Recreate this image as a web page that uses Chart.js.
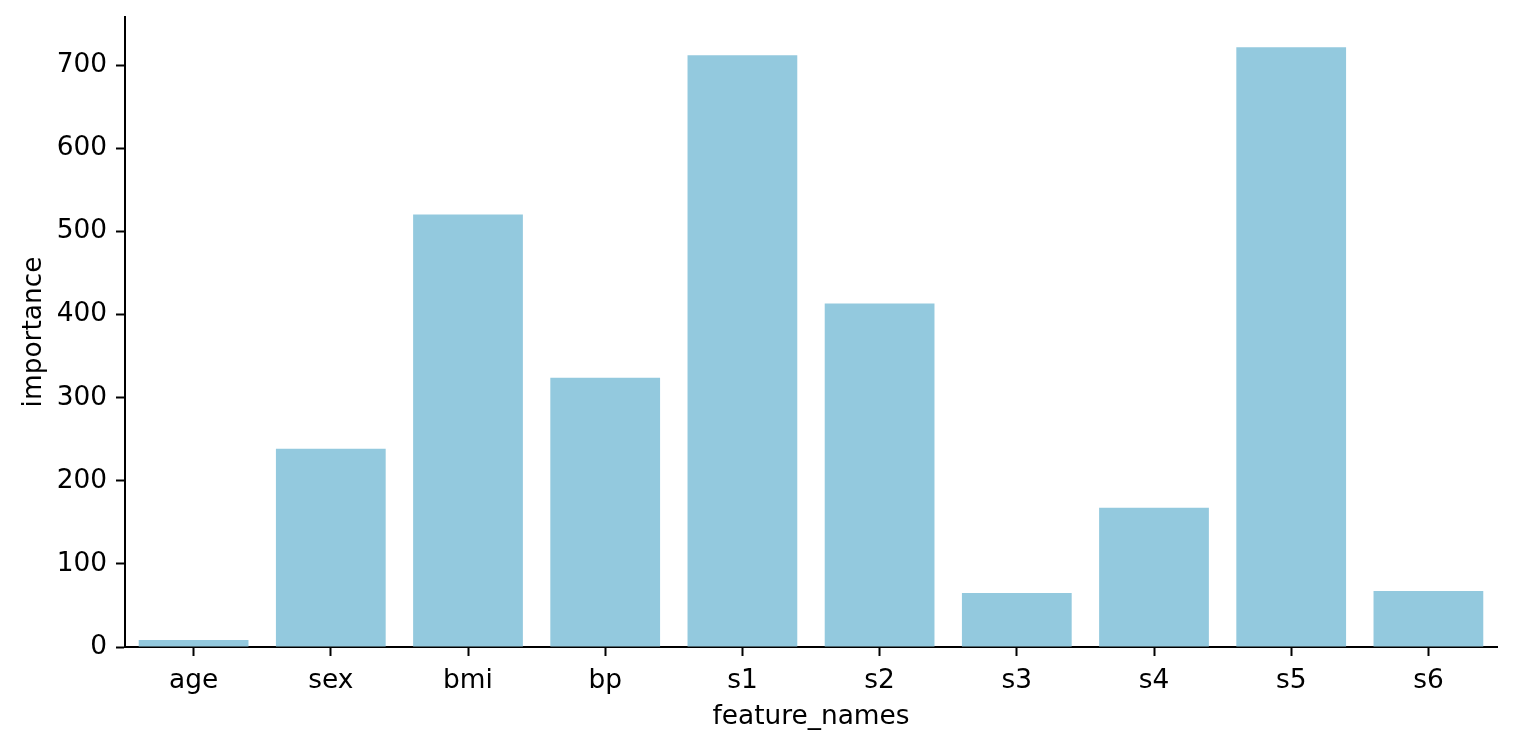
<!DOCTYPE html>
<html>
<head>
<meta charset="utf-8">
<script src="https://cdn.jsdelivr.net/npm/chart.js@4"></script>
<style>
  html, body { margin: 0; padding: 0; background: #ffffff; }
  #wrap { width: 1516px; height: 748px; }
</style>
</head>
<body>
<div id="wrap"><canvas id="c" width="1516" height="748"></canvas></div>
<script>
const categories = ["age", "sex", "bmi", "bp", "s1", "s2", "s3", "s4", "s5", "s6"];
const importance = [8.4, 238.6, 520.5, 324.1, 712, 413.3, 65, 167.5, 721.7, 67.5];
const yTicks = [0, 100, 200, 300, 400, 500, 600, 700];
const xTitle = "feature_names";
const yTitle = "importance";

const FONT = { family: "'DejaVu Sans'", size: 26.4, lineHeight: 1.2 };

new Chart(document.getElementById('c'), {
  type: 'bar',
  data: {
    labels: categories,
    datasets: [{
      data: importance,
      backgroundColor: 'rgb(147,201,222)',
      borderWidth: 0,
      barPercentage: 0.8,
      categoryPercentage: 1.0
    }]
  },
  options: {
    responsive: false,
    animation: false,
    devicePixelRatio: 1,
    layout: { padding: { left: 0, top: 17, right: 19, bottom: 0 } },
    plugins: { legend: { display: false }, tooltip: { enabled: false } },
    scales: {
      x: {
        offset: true,
        grid: { offset: false, drawOnChartArea: false, drawTicks: true, tickLength: 9, tickWidth: 2, color: '#000', tickColor: '#000' },
        border: { display: true, color: '#000', width: 2 },
        ticks: { color: '#000', font: FONT, padding: 9, maxRotation: 0, autoSkip: false },
        title: { display: true, text: xTitle, color: '#000', font: FONT, padding: { top: 0, bottom: 15 } },
        afterFit: (s) => { s.height = 101; s.paddingLeft = 0; s.paddingRight = 0; }
      },
      y: {
        min: 0,
        max: 758,
        grid: { drawOnChartArea: false, drawTicks: true, tickLength: 9, tickWidth: 2, color: '#000', tickColor: '#000' },
        border: { display: true, color: '#000', width: 2 },
        ticks: { color: '#000', font: FONT, padding: 9, stepSize: 100 },
        afterBuildTicks: (s) => { s.ticks = yTicks.map(v => ({ value: v })); },
        title: { display: true, text: yTitle, color: '#000', font: FONT, padding: { top: 18, bottom: 0 } },
        afterFit: (s) => { s.width = 125; s.paddingTop = 0; s.paddingBottom = 0; }
      }
    }
  }
});
</script>
</body>
</html>
